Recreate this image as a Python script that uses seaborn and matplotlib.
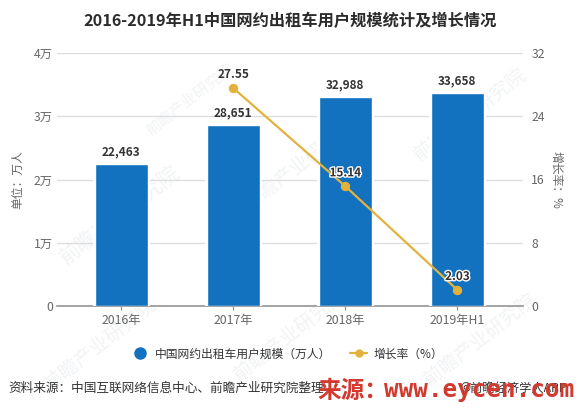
#!/usr/bin/env python3
import matplotlib
matplotlib.use("Agg")
import matplotlib.pyplot as plt
import matplotlib.patheffects as pe
from matplotlib.lines import Line2D
import pandas as pd
import seaborn as sns

years = ["2016年", "2017年", "2018年", "2019年H1"]
users = [22463, 28651, 32988, 33658]
growth_years = ["2017年", "2018年", "2019年H1"]
growth = [27.55, 15.14, 2.03]
left_ticks = [0, 10000, 20000, 30000, 40000]
left_labels = ["0", "1万", "2万", "3万", "4万"]
right_ticks = [0, 8, 16, 24, 32]

BLUE = "#1272bf"
GOLD = "#e3b23c"
GREY = "#666666"
DARK = "#333333"
RED = "#d2392f"

sns.set_theme(style="white")
plt.rcParams["font.family"] = ["Noto Sans CJK SC", "DejaVu Sans"]

W, H = 578, 409
fig = plt.figure(figsize=(W / 100, H / 100), dpi=100, facecolor="white")
ax = fig.add_axes([57 / W, 1 - 306 / H, 466 / W, 253 / H], zorder=2)

# faint watermark, sits behind the axes
for x, y, s in [(120, 215, 15), (300, 165, 14), (470, 115, 14), (100, 345, 14),
                (290, 335, 14), (480, 340, 14), (190, 100, 11)]:
    fig.text(x / W, 1 - y / H, "前瞻产业研究院", color="#f1f3f5", fontsize=s,
             rotation=38, ha="center", va="center", zorder=0)
ax.patch.set_alpha(0)

df = pd.DataFrame({"year": years, "users": users})
sns.barplot(data=df, x="year", y="users", color=BLUE, width=0.473, saturation=1,
            ax=ax, zorder=3)
ax.set_xlim(-0.575, 3.586)
ax.set_ylim(0, 40000)
ax.set_yticks(left_ticks, left_labels)
ax.set_xlabel("")
ax.set_ylabel("单位：万人", color=GREY, fontsize=8.5)
ax.yaxis.set_label_coords((24 - 57) / 466, 0.5)
ax.grid(axis="y", color="#dcdcdc", linewidth=0.9, zorder=0)
ax.set_axisbelow(True)
ax.tick_params(axis="y", length=0, labelsize=8.8, labelcolor=GREY, pad=3)
ax.tick_params(axis="x", length=3, width=0.8, color="#888888", labelsize=8.8,
               labelcolor=GREY, pad=3, bottom=True)
sns.despine(ax=ax, left=True, right=True, top=True)
ax.spines["bottom"].set_color("#999999")

for bar, v in zip(ax.containers[0], users):
    # white halo breaks the gridlines next to the bars
    bar.set_path_effects([pe.withStroke(linewidth=3, foreground="white")])
    ax.annotate(f"{v:,}", (bar.get_x() + bar.get_width() / 2, v), xytext=(0, 4),
                textcoords="offset points", ha="center", va="bottom",
                color=DARK, fontsize=8.5, fontweight="bold")

ax2 = ax.twinx()
ax2.set_zorder(3)
ax2.patch.set_alpha(0)
line_df = pd.DataFrame({"year": growth_years, "growth": growth})
sns.lineplot(data=line_df, x="year", y="growth", color=GOLD, linewidth=1.6, marker="o",
             markersize=6, markeredgecolor=GOLD, sort=False, ax=ax2, zorder=5)
ax2.set_ylim(0, 32)
ax2.set_yticks(right_ticks, [str(t) for t in right_ticks])
ax2.set_xlabel("")
ax2.set_ylabel("增长率：%", color=GREY, fontsize=8.5, rotation=-90)
ax2.yaxis.set_label_coords((563 - 57) / 466, 0.5)
ax2.tick_params(axis="y", length=0, labelsize=8.8, labelcolor=GREY, pad=6)
ax2.grid(False)
sns.despine(ax=ax2, left=True, right=True, top=True, bottom=True)

for name, v in zip(growth_years, growth):
    i = years.index(name)
    t = ax2.annotate(f"{v:.2f}", (i, v), xytext=(0, 5), textcoords="offset points",
                     ha="center", va="bottom", fontsize=8.5, fontweight="bold",
                     color=DARK, zorder=6)
    if name != "2017年":
        t.set_path_effects([pe.withStroke(linewidth=2, foreground="white")])

handles = [
    Line2D([], [], linestyle="none", marker="o", markersize=8, color=BLUE),
    Line2D([], [], color=GOLD, linewidth=1.6, marker="o", markersize=5),
]
fig.legend(handles, ["中国网约出租车用户规模（万人）", "增长率（%）"], loc="center",
           bbox_to_anchor=(287 / W, 1 - 354 / H), ncol=2, frameon=False, fontsize=8.5,
           labelcolor=DARK, handlelength=1.5, columnspacing=1.6, handletextpad=0.5)

fig.text(290 / W, 1 - 21 / H, "2016-2019年H1中国网约出租车用户规模统计及增长情况",
         ha="center", va="center", color="#2b2b2b", fontsize=11.7, fontweight="bold")
fig.text(8 / W, 1 - 388 / H, "资料来源：中国互联网络信息中心、前瞻产业研究院整理",
         ha="left", va="center", color=DARK, fontsize=9.1, zorder=4)
fig.text(460 / W, 1 - 388 / H, "©前瞻经济学人APP", ha="left", va="center",
         color=DARK, fontsize=8.8, zorder=4)
fig.text(317 / W, 1 - 391 / H, "来源：", ha="left", va="center", color=RED,
         fontsize=17, fontweight="bold", zorder=5)
fig.text(384 / W, 1 - 390 / H, "www.eycen.com", ha="left", va="center",
         color=RED, fontsize=17.5, fontweight="bold", family="DejaVu Sans Mono", zorder=5)

fig.savefig("out.png", dpi=100)
